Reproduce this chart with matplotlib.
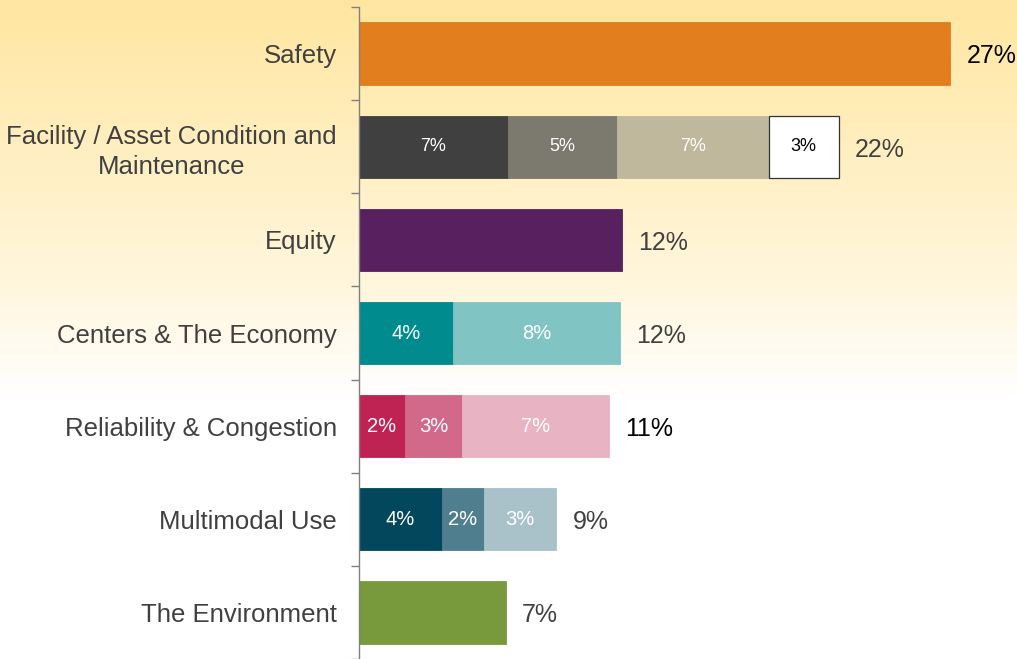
import numpy as np
import matplotlib
matplotlib.use("Agg")
import matplotlib.pyplot as plt
from matplotlib.colors import LinearSegmentedColormap

plt.rcParams["font.family"] = ["Liberation Sans", "DejaVu Sans"]

# ---- datos -----------------------------------------------------------------
categorias = [
    "Safety",
    "Facility / Asset Condition and\nMaintenance",
    "Equity",
    "Centers & The Economy",
    "Reliability & Congestion",
    "Multimodal Use",
    "The Environment",
]

# segmentos de cada barra (porcentaje)
segmentos = [
    [27.0],
    [6.8, 5.0, 6.9, 3.2],
    [12.0],
    [4.3, 7.6],
    [2.1, 2.6, 6.7],
    [3.8, 1.9, 3.3],
    [6.7],
]
etiquetas_seg = [
    [""],
    ["7%", "5%", "7%", "3%"],
    [""],
    ["4%", "8%"],
    ["2%", "3%", "7%"],
    ["4%", "2%", "3%"],
    [""],
]
totales = ["27%", "22%", "12%", "12%", "11%", "9%", "7%"]

colores = [
    ["#E37E1E"],
    ["#404040", "#7C7A6E", "#BFB89C", "#FFFFFF"],
    ["#58205F"],
    ["#008B8F", "#80C4C3"],
    ["#BE2354", "#D3698A", "#E8B4C4"],
    ["#03475C", "#4F7F8F", "#A9C2CA"],
    ["#789A3D"],
]
color_total = ["#000000", "#404040", "#404040", "#404040", "#000000", "#404040", "#404040"]

# ---- figura ----------------------------------------------------------------
fig = plt.figure(figsize=(10.17, 6.59), dpi=100)

# fondo degradado
bg = fig.add_axes([0, 0, 1, 1], zorder=0)
cmap = LinearSegmentedColormap.from_list("fondo", [(0, "#FFE6A0"), (0.45, "#FFF7E0"), (0.6, "#FFFFFF"), (1, "#FFFFFF")])
grad = np.linspace(0, 1, 300).reshape(-1, 1)
bg.imshow(grad, aspect="auto", cmap=cmap, extent=[0, 1, 0, 1], origin="upper")
bg.axis("off")

ax = fig.add_axes([359 / 1017, 0, 1 - 359 / 1017, 1 - 7 / 659], zorder=1)
ax.patch.set_alpha(0)

n = len(categorias)
y = np.arange(n)

for i in range(n):
    izq = 0
    for v, c, et in zip(segmentos[i], colores[i], etiquetas_seg[i]):
        borde = "#333333" if c == "#FFFFFF" else c
        ax.barh(y[i], v, left=izq, height=0.67, color=c,
                edgecolor=borde, linewidth=0.9 if c == "#FFFFFF" else 0.6)
        if et:
            col_txt = "#000000" if c == "#FFFFFF" else "white"
            ax.text(izq + v / 2, y[i], et, ha="center", va="center",
                    fontsize=13 if i == 1 else 14.5, color=col_txt)
        izq += v
    ax.text(izq + 0.75, y[i] + 0.03, totales[i], ha="left", va="center",
            fontsize=18, color=color_total[i])

ax.set_xlim(0, (1017 - 359) / 21.9)
ax.set_ylim(n - 0.5, -0.5)

ax.set_yticks(y)
ax.set_yticklabels(categorias, fontsize=18.5, color="#404040",
                   multialignment="center", linespacing=1.3)
ax.set_yticks(np.arange(n + 1) - 0.5, minor=True)
ax.tick_params(axis="y", which="major", length=0, pad=16)
ax.tick_params(axis="y", which="minor", length=6, color="#808080", width=1)
ax.set_xticks([])

for lado in ["top", "right", "bottom"]:
    ax.spines[lado].set_visible(False)
ax.spines["left"].set_color("#808080")
ax.spines["left"].set_linewidth(1)

fig.savefig("out.png", dpi=100)
